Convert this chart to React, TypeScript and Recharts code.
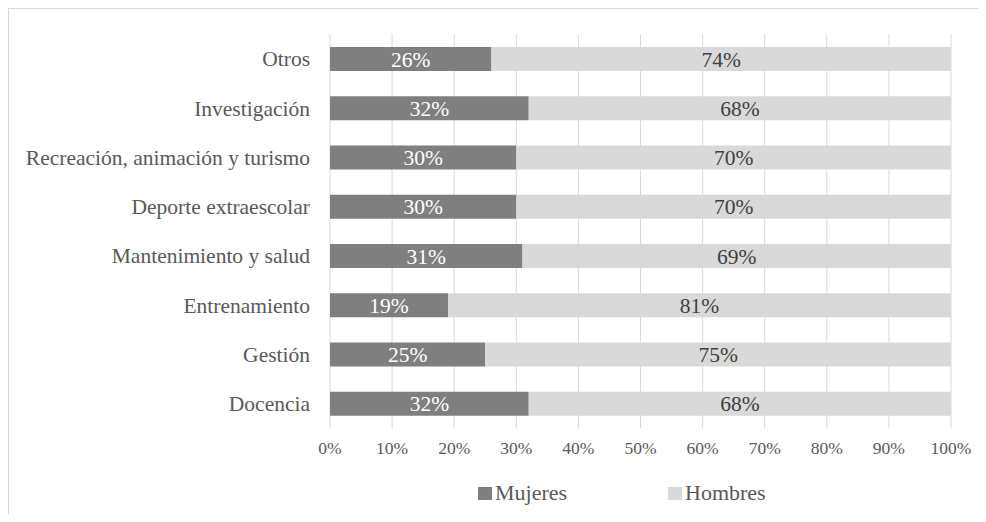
import React from 'react'
import {
  BarChart,
  Bar,
  XAxis,
  YAxis,
  CartesianGrid,
  Legend,
  LabelList,
} from 'recharts'

const categories = [
  'Otros',
  'Investigación',
  'Recreación, animación y turismo',
  'Deporte extraescolar',
  'Mantenimiento y salud',
  'Entrenamiento',
  'Gestión',
  'Docencia',
]
const mujeres = [26, 32, 30, 30, 31, 19, 25, 32]
const hombres = [74, 68, 70, 70, 69, 81, 75, 68]
const xTicks = [0, 10, 20, 30, 40, 50, 60, 70, 80, 90, 100]
const seriesNames = ['Mujeres', 'Hombres']

const FONT = 'Liberation Serif, DejaVu Serif, Times New Roman, serif'
const DARK = '#7f7f7f'
const LIGHT = '#d9d9d9'
const TEXT = '#595959'

const data = categories.map((name, i) => ({
  name,
  mujeres: mujeres[i],
  hombres: hombres[i],
}))

const pct = (v: any) => `${v}%`

const ChartLegend = () => (
  <div style={{ position: 'relative', height: 30, fontFamily: FONT, fontSize: 22, color: TEXT }}>
    {seriesNames.map((s, i) => (
      <div
        key={s}
        style={{
          position: 'absolute',
          left: i === 0 ? 469 : 659,
          top: 0,
          height: 30,
          display: 'flex',
          alignItems: 'center',
        }}
      >
        <span style={{ width: 14, height: 13, background: i === 0 ? DARK : LIGHT, marginRight: 3 }} />
        <span>{s}</span>
      </div>
    ))}
  </div>
)

export default function App() {
  return (
    <div style={{ width: 969, height: 505, borderTop: '1px solid #d9d9d9', borderLeft: '1px solid #d9d9d9', fontFamily: FONT }}>
      <BarChart
        width={969}
        height={505}
        layout="vertical"
        data={data}
        margin={{ top: 25, right: 27, left: 0, bottom: 6 }}
        barSize={24}
        style={{ fontFamily: FONT }}
      >
        <CartesianGrid horizontal={false} stroke="#d9d9d9" />
        <XAxis
          type="number"
          domain={[0, 100]}
          ticks={xTicks}
          tickFormatter={pct}
          height={50}
          axisLine={false}
          tickLine={false}
          tickSize={0}
          tickMargin={14}
          tick={{ fill: TEXT, fontSize: 17.5, fontFamily: FONT }}
        />
        <YAxis
          type="category"
          dataKey="name"
          width={321}
          axisLine={false}
          tickLine={false}
          tickSize={0}
          tickMargin={20}
          tick={{ fill: TEXT, fontSize: 21.5, fontFamily: FONT }}
        />
        <Legend verticalAlign="bottom" content={<ChartLegend />} />
        <Bar dataKey="mujeres" name="Mujeres" stackId="a" fill={DARK} isAnimationActive={false}>
          <LabelList dataKey="mujeres" position="center" formatter={pct} fill="#ffffff" fontSize={21.5} fontFamily={FONT} />
        </Bar>
        <Bar dataKey="hombres" name="Hombres" stackId="a" fill={LIGHT} isAnimationActive={false}>
          <LabelList dataKey="hombres" position="center" formatter={pct} fill="#404040" fontSize={21.5} fontFamily={FONT} />
        </Bar>
      </BarChart>
    </div>
  )
}
